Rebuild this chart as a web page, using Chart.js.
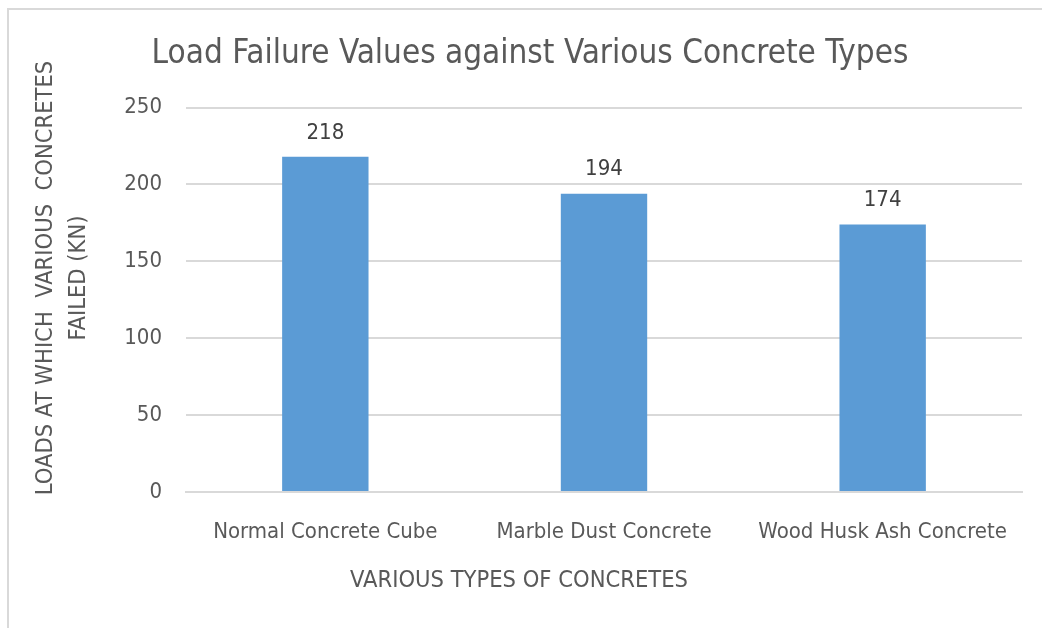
<!DOCTYPE html>
<html>
<head>
<meta charset="utf-8">
<script src="https://cdn.jsdelivr.net/npm/chart.js@4.4.0/dist/chart.umd.min.js"></script>
<style>
  html, body { margin: 0; padding: 0; background: #fff; overflow: hidden; }
  #frame { position: absolute; left: 7px; top: 8px; width: 1100px; height: 700px; border: 2px solid #d9d9d9; }
  #wrap { position: absolute; left: 0; top: 0; width: 1042px; height: 628px; }
</style>
</head>
<body>
<div id="frame"></div>
<div id="wrap"><canvas id="chart" width="1042" height="628"></canvas></div>
<script>
// values
const categories = ['Normal Concrete Cube', 'Marble Dust Concrete', 'Wood Husk Ash Concrete'];
const loads = [218, 194, 174];
const yTicks = [0, 50, 100, 150, 200, 250];
const yTitle = ['LOADS AT WHICH  VARIOUS  CONCRETES', 'FAILED (KN)'];
const xTitle = 'VARIOUS TYPES OF CONCRETES';

const FONT = "'DejaVu Sans Condensed', 'Liberation Sans Narrow', sans-serif";
const TEXT = '#595959';

// value labels above each bar + axis titles placed like the excel original
const extras = {
  id: 'extras',
  afterDatasetsDraw(chart) {
    const ctx = chart.ctx;
    const meta = chart.getDatasetMeta(0);
    ctx.save();
    ctx.font = '22px ' + FONT;
    ctx.fillStyle = '#404040';
    ctx.textAlign = 'center';
    ctx.textBaseline = 'middle';
    meta.data.forEach((bar, i) => {
      ctx.fillText(String(chart.data.datasets[0].data[i]), bar.x, bar.y - 24);
    });

    ctx.fillStyle = TEXT;
    ctx.font = '23.5px ' + FONT;
    ctx.fillText(xTitle, 519, 581);

    ctx.translate(0, 278);
    ctx.rotate(-Math.PI / 2);
    ctx.fillText(yTitle[0], 0, 46);
    ctx.fillText(yTitle[1], 0, 79);
    ctx.restore();
  }
};

new Chart(document.getElementById('chart'), {
  type: 'bar',
  data: {
    labels: categories,
    datasets: [{
      data: loads,
      backgroundColor: '#5b9bd5',
      borderWidth: 0,
      barPercentage: 0.31,
      categoryPercentage: 1
    }]
  },
  options: {
    responsive: false,
    animation: false,
    layout: { padding: { left: 38, right: 20, top: 0, bottom: 20 } },
    plugins: {
      legend: { display: false },
      tooltip: { enabled: false },
      title: {
        display: true,
        text: 'Load Failure Values against Various Concrete Types',
        color: TEXT,
        font: { family: FONT, size: 33, weight: 'normal' },
        padding: { top: 35, bottom: 33 }
      }
    },
    scales: {
      x: {
        grid: { display: false },
        border: { color: '#d9d9d9', width: 2 },
        ticks: { color: TEXT, font: { family: FONT, size: 22 }, padding: 19, maxRotation: 0 },
        afterFit(scale) { scale.height = 628 - 492 - 20; }
      },
      y: {
        min: 0,
        max: 250,
        afterBuildTicks(scale) { scale.ticks = yTicks.map(v => ({ value: v })); },
        grid: { color: '#d9d9d9', lineWidth: 2, drawTicks: false },
        border: { display: false },
        ticks: { color: TEXT, font: { family: FONT, size: 22 }, padding: 24 },
        afterFit(scale) { scale.width = 186 - 38; }
      }
    }
  },
  plugins: [extras]
});
</script>
</body>
</html>
